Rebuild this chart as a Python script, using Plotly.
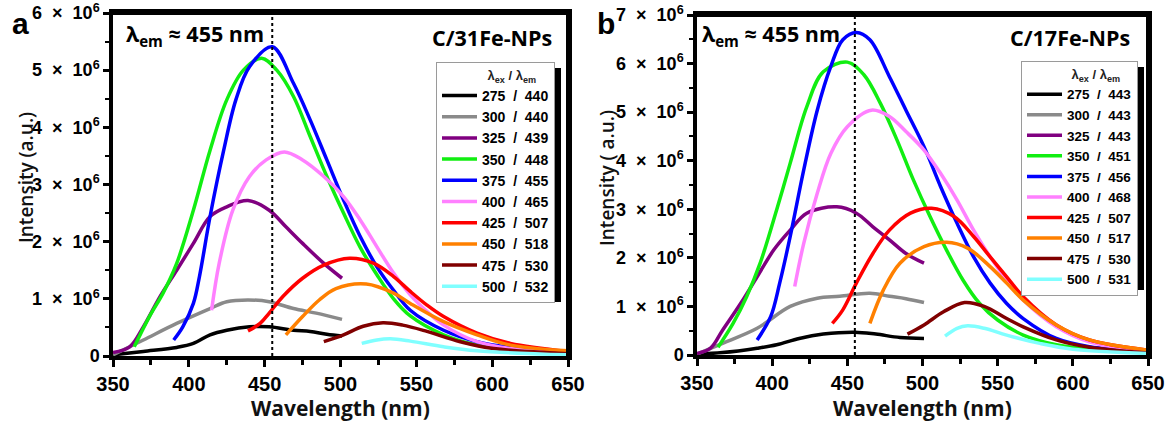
import plotly.graph_objects as go

# ---------------- data (intensity in units of 10^6 a.u.) ----------------
a_labels = ["275 / 440", "300 / 440", "325 / 439", "350 / 448", "375 / 455",
            "400 / 465", "425 / 507", "450 / 518", "475 / 530", "500 / 532"]
b_labels = ["275 / 443", "300 / 443", "325 / 443", "350 / 451", "375 / 456",
            "400 / 468", "425 / 507", "450 / 517", "475 / 530", "500 / 531"]
colors = ["#000000", "#8a8a8a", "#800080", "#11ee11", "#0000ff",
          "#ff80ff", "#ff0000", "#ff8000", "#800000", "#80ffff"]

# Panel a: C/31Fe-NPs
a_x0 = [350, 370, 392, 403, 414, 425, 440, 453, 469, 480, 491, 501]
a_y0 = [0.02, 0.08, 0.15, 0.22, 0.37, 0.45, 0.51, 0.51, 0.45, 0.43, 0.38, 0.35]
a_x1 = [350, 370, 392, 414, 425, 439, 453, 469, 484, 501]
a_y1 = [0.02, 0.28, 0.57, 0.83, 0.95, 0.98, 0.95, 0.83, 0.75, 0.64]
a_x2 = [350, 361, 370, 381, 392, 403, 414, 425, 439, 453, 464, 475, 489, 501]
a_y2 = [0.06, 0.16, 0.51, 1.04, 1.50, 1.97, 2.44, 2.61, 2.72, 2.55, 2.26, 1.97, 1.62, 1.36]
a_x3 = [364, 374, 383, 392, 403, 414, 425, 436, 448, 458, 469, 480, 491, 502, 513, 524, 535, 546, 568, 590, 620, 650]
a_y3 = [0.16, 0.69, 1.10, 1.62, 2.55, 3.60, 4.48, 5.00, 5.21, 5.00, 4.54, 3.84, 3.14, 2.50, 1.90, 1.42, 1.00, 0.70, 0.37, 0.19, 0.09, 0.05]
a_x4 = [390, 396, 403, 407, 414, 423, 431, 440, 455, 469, 480, 491, 502, 513, 524, 535, 546, 568, 590, 620, 650]
a_y4 = [0.28, 0.51, 0.92, 1.39, 2.44, 3.60, 4.48, 5.06, 5.41, 4.77, 4.13, 3.43, 2.73, 2.09, 1.56, 1.15, 0.80, 0.45, 0.25, 0.12, 0.06]
a_x5 = [415, 420, 429, 440, 451, 463, 475, 489, 502, 513, 524, 535, 546, 557, 568, 590, 612, 650]
a_y5 = [0.80, 1.62, 2.55, 3.14, 3.43, 3.57, 3.43, 3.14, 2.79, 2.38, 1.91, 1.45, 1.07, 0.78, 0.54, 0.25, 0.13, 0.06]
a_x6 = [439, 447, 453, 462, 475, 489, 506, 522, 535, 546, 557, 568, 590, 612, 650]
a_y6 = [0.44, 0.57, 0.75, 1.04, 1.36, 1.59, 1.71, 1.62, 1.39, 1.13, 0.89, 0.69, 0.40, 0.22, 0.08]
a_x7 = [464, 475, 486, 497, 517, 535, 546, 568, 590, 612, 650]
a_y7 = [0.37, 0.69, 0.98, 1.18, 1.26, 1.10, 0.92, 0.60, 0.37, 0.19, 0.09]
a_x8 = [489, 502, 515, 528, 541, 557, 579, 601, 650]
a_y8 = [0.25, 0.37, 0.52, 0.58, 0.54, 0.43, 0.25, 0.13, 0.04]
a_x9 = [514, 524, 533, 546, 568, 590, 650]
a_y9 = [0.22, 0.28, 0.30, 0.26, 0.16, 0.09, 0.02]

# Panel b: C/17Fe-NPs
b_x0 = [350, 367, 390, 403, 418, 434, 455, 469, 485, 501]
b_y0 = [0.02, 0.05, 0.14, 0.21, 0.34, 0.43, 0.47, 0.43, 0.36, 0.34]
b_x1 = [350, 367, 390, 412, 430, 445, 465, 478, 489, 501]
b_y1 = [0.02, 0.24, 0.55, 1.00, 1.17, 1.21, 1.27, 1.21, 1.16, 1.08]
b_x2 = [350, 359, 367, 379, 390, 401, 412, 423, 443, 456, 467, 478, 489, 501]
b_y2 = [0.03, 0.14, 0.51, 1.06, 1.61, 2.16, 2.57, 2.92, 3.05, 2.92, 2.64, 2.37, 2.09, 1.89]
b_x3 = [364, 374, 383, 392, 403, 412, 423, 434, 450, 461, 472, 483, 494, 505, 516, 527, 538, 550, 567, 589, 620, 650]
b_y3 = [0.16, 0.65, 1.20, 1.89, 2.99, 3.95, 5.11, 5.83, 6.03, 5.77, 5.18, 4.43, 3.60, 2.85, 2.16, 1.54, 1.06, 0.72, 0.41, 0.21, 0.09, 0.05]
b_x4 = [390, 399, 405, 412, 421, 430, 439, 447, 456, 465, 478, 489, 501, 512, 523, 534, 545, 556, 567, 589, 611, 650]
b_y4 = [0.31, 0.79, 1.48, 2.44, 3.81, 5.04, 5.94, 6.49, 6.64, 6.49, 5.73, 5.04, 4.29, 3.47, 2.71, 2.02, 1.48, 1.06, 0.75, 0.34, 0.17, 0.07]
b_x5 = [415, 421, 430, 439, 450, 466, 478, 489, 501, 512, 523, 534, 545, 556, 567, 589, 611, 650]
b_y5 = [1.41, 2.30, 3.33, 4.15, 4.70, 5.04, 4.91, 4.60, 4.22, 3.74, 3.19, 2.57, 2.02, 1.54, 1.13, 0.58, 0.27, 0.08]
b_x6 = [440, 447, 456, 467, 478, 492, 506, 521, 534, 545, 556, 567, 589, 611, 650]
b_y6 = [0.65, 0.93, 1.48, 2.09, 2.57, 2.92, 3.02, 2.85, 2.44, 2.02, 1.61, 1.20, 0.62, 0.31, 0.10]
b_x7 = [465, 474, 485, 501, 516, 530, 545, 556, 567, 589, 611, 650]
b_y7 = [0.65, 1.34, 1.89, 2.23, 2.32, 2.20, 1.82, 1.48, 1.13, 0.62, 0.31, 0.10]
b_x8 = [490, 501, 514, 528, 541, 556, 567, 589, 611, 650]
b_y8 = [0.43, 0.62, 0.89, 1.08, 1.00, 0.75, 0.58, 0.31, 0.16, 0.04]
b_x9 = [515, 523, 530, 541, 556, 578, 600, 650]
b_y9 = [0.39, 0.55, 0.60, 0.55, 0.41, 0.24, 0.12, 0.03]

a_xs = [a_x0, a_x1, a_x2, a_x3, a_x4, a_x5, a_x6, a_x7, a_x8, a_x9]
a_ys = [a_y0, a_y1, a_y2, a_y3, a_y4, a_y5, a_y6, a_y7, a_y8, a_y9]
b_xs = [b_x0, b_x1, b_x2, b_x3, b_x4, b_x5, b_x6, b_x7, b_x8, b_x9]
b_ys = [b_y0, b_y1, b_y2, b_y3, b_y4, b_y5, b_y6, b_y7, b_y8, b_y9]

a_yticks = [0, 1, 2, 3, 4, 5, 6]
b_yticks = [0, 1, 2, 3, 4, 5, 6, 7]
xticks = [350, 400, 450, 500, 550, 600, 650]
em_line = 455

# ---------------- figure ----------------
# the page body margin is removed (post_script), so paper px == window px
W, H = 1171, 421


def px(x):
    return x / W


def py(y):
    return 1 - y / H


NB = "\u00a0"


def leg_name(s):
    a, b = s.split(" / ")
    return a + NB * 2 + "/" + NB * 2 + b


fig = go.Figure()
for xs, ys, lab, col in zip(a_xs, a_ys, a_labels, colors):
    fig.add_trace(go.Scatter(x=xs, y=ys, name=leg_name(lab), mode="lines",
                             line=dict(color=col, width=3.5, shape="spline", smoothing=1.0),
                             xaxis="x", yaxis="y", legend="legend"))
for xs, ys, lab, col in zip(b_xs, b_ys, b_labels, colors):
    fig.add_trace(go.Scatter(x=xs, y=ys, name=leg_name(lab), mode="lines",
                             line=dict(color=col, width=3.5, shape="spline", smoothing=1.0),
                             xaxis="x2", yaxis="y2", legend="legend2"))

TICKF = dict(family="Liberation Sans, Arial", size=20, color="black", weight=700)
YTICKF = dict(family="Liberation Sans, Arial", size=18, color="black", weight=700)
XTITLEF = dict(family="Open Sans", size=21, color="#111", weight=700)
YTITLEF = dict(family="Open Sans", size=19, color="#111", weight=600)


def ylab(v):
    return "0" if v == 0 else f"{v}{NB}{NB}×{NB}{NB}10<sup>6</sup>"


def xaxis_common(dom):
    return dict(domain=dom, range=[350, 650], tickvals=xticks, ticks="outside",
                ticklen=7, tickwidth=3, tickcolor="black", showline=True,
                linewidth=3.5, linecolor="black", mirror=True, showgrid=False,
                zeroline=False, tickfont=TICKF, automargin=False, ticklabeloverflow="allow",
                minor=dict(dtick=25, tick0=350, ticks="outside", ticklen=5, tickwidth=2.5, tickcolor="black"))


def yaxis_common(dom, rng, tv, anchor):
    return dict(domain=dom, range=rng, tickvals=tv, ticktext=[ylab(v) for v in tv],
                ticks="outside", ticklen=6, tickwidth=2.5, tickcolor="black",
                showline=True, linewidth=3.5, linecolor="black", mirror=True,
                showgrid=False, zeroline=False, tickfont=YTICKF, anchor=anchor,
                automargin=False, ticklabeloverflow="allow",
                minor=dict(dtick=0.5, tick0=0, ticks="outside", ticklen=4, tickwidth=2, tickcolor="black"))


LEGT = dict(family="Liberation Sans, Arial", size=13, color="#222", weight=700)


def legend_at(xr, yt, fs):
    return dict(x=px(xr), y=py(yt), xanchor="right", yanchor="top",
                bgcolor="white", bordercolor="#9a9a9a", borderwidth=1,
                font=dict(family="Liberation Sans, Arial", size=fs, color="black", weight=700),
                tracegroupgap=0, itemwidth=35,
                title=dict(text=NB * 9 + "λ<sub>ex</sub> / λ<sub>em</sub>", font=LEGT, side="top center"))


# plot boxes in window pixels: left, right, top, bottom
box_a = (113, 568, 13, 356)
box_b = (697, 1148, 15, 355)

fig.update_layout(
    width=W, height=H, margin=dict(l=0, r=0, t=0, b=0, autoexpand=False),
    template="none",
    paper_bgcolor="white", plot_bgcolor="white",
    xaxis=xaxis_common([px(box_a[0]), px(box_a[1])]) | dict(anchor="y"),
    yaxis=yaxis_common([py(box_a[3]), py(box_a[2])], [0, 6], a_yticks, "x"),
    xaxis2=xaxis_common([px(box_b[0]), px(box_b[1])]) | dict(anchor="y2"),
    yaxis2=yaxis_common([py(box_b[3]), py(box_b[2])], [0, 7], b_yticks, "x2"),
    legend=legend_at(555, 62, 14),
    legend2=legend_at(1138, 61, 13.5),
)

# plot frames (top and right edges, in paper coordinates so they are never clipped)
for (l, r, t, b) in (box_a, box_b):
    fig.add_shape(type="line", xref="paper", yref="paper", x0=px(l - 1.75), x1=px(r + 1.75),
                  y0=py(t), y1=py(t), line=dict(color="black", width=4), layer="above")
    fig.add_shape(type="line", xref="paper", yref="paper", x0=px(r), x1=px(r),
                  y0=py(t - 1.75), y1=py(b + 1.75), line=dict(color="black", width=4), layer="above")

# dotted emission line
for xr, yr in (("x", "y domain"), ("x2", "y2 domain")):
    fig.add_shape(type="line", xref=xr, yref=yr, x0=em_line, x1=em_line, y0=0, y1=1,
                  line=dict(color="black", width=2, dash="dot"), layer="above")

# legend shadows (ref legend boxes: left, right, top, bottom in window px)
for (x0, x1, y0, y1) in ((432, 555, 62, 296), (1021, 1138, 61, 284)):
    fig.add_shape(type="rect", xref="paper", yref="paper",
                  x0=px(x1), x1=px(x1 + 6), y0=py(y1 + 6), y1=py(y0 + 6),
                  fillcolor="black", line=dict(width=0), layer="above")
    fig.add_shape(type="rect", xref="paper", yref="paper",
                  x0=px(x0 + 6), x1=px(x1 + 6), y0=py(y1 + 6), y1=py(y1),
                  fillcolor="black", line=dict(width=0), layer="above")

ANF = dict(family="Open Sans", size=21.5, color="black", weight=700)
PLF = dict(family="Liberation Sans, Arial", size=30, color="black", weight=700)
ann = [
    dict(text="λ<sub>em</sub> ≈ 455 nm", x=px(124), y=py(35), xanchor="left", yanchor="middle", font=ANF),
    dict(text="C/31Fe-NPs", x=px(554), y=py(38), xanchor="right", yanchor="middle", font=ANF),
    dict(text="λ<sub>em</sub> ≈ 455 nm", x=px(700), y=py(35), xanchor="left", yanchor="middle", font=ANF),
    dict(text="C/17Fe-NPs", x=px(1132), y=py(38), xanchor="right", yanchor="middle", font=ANF),
    dict(text="a", x=px(10), y=py(24), xanchor="left", yanchor="middle", font=PLF),
    dict(text="b", x=px(595), y=py(24), xanchor="left", yanchor="middle", font=PLF),
    dict(text="Intensity (a.u.)", x=px(26), y=py(178), xanchor="center", yanchor="middle",
         textangle=-90, font=YTITLEF),
    dict(text="Intensity ( a.u.)", x=px(607), y=py(178), xanchor="center", yanchor="middle",
         textangle=-90, font=YTITLEF),
    dict(text="Wavelength (nm)", x=px(340.5), y=py(408), xanchor="center", yanchor="middle", font=XTITLEF),
    dict(text="Wavelength (nm)", x=px(922.5), y=py(408), xanchor="center", yanchor="middle", font=XTITLEF),
]
for a in ann:
    fig.add_annotation(xref="paper", yref="paper", showarrow=False, **a)

fig.write_html("out.html", config={"displayModeBar": False},
               post_script="document.body.style.margin='0px';")
